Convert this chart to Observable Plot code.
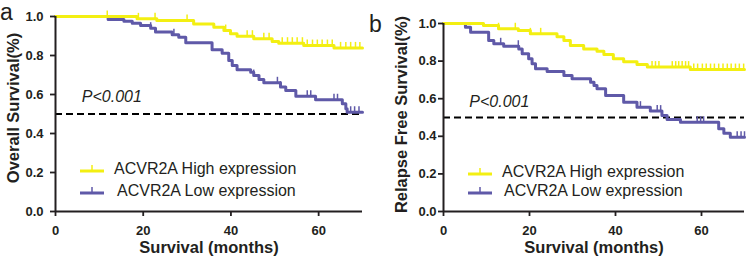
<!DOCTYPE html>
<html><head><meta charset="utf-8">
<script src="https://cdn.jsdelivr.net/npm/d3@7"></script>
<script src="https://cdn.jsdelivr.net/npm/@observablehq/plot@0.6"></script>
<style>
body{margin:0;background:#fff;}
#root{position:relative;width:749px;height:261px;overflow:hidden;font-family:"Liberation Sans",Arial,sans-serif;color:#231f20;}
.panel{position:absolute;top:0;}
.letter{position:absolute;font-size:23px;line-height:1;}
.leg{position:absolute;font-size:16px;display:flex;align-items:center;white-space:nowrap;height:20px;}
.leg svg{margin-right:10px;}
</style></head><body><div id="root"></div>
<script>
// ---- Data ----
const seriesNames = ["ACVR2A High expression", "ACVR2A Low expression"];
const xTicks = [0, 20, 40, 60];
const yTicks = [0, 0.2, 0.4, 0.6, 0.8, 1.0];

// Panel a: Overall Survival
const osHighMonths = [0, 18.6, 23.1, 31.5, 36.1, 38.4, 39.9, 41.4, 45.2, 49.4, 50.9, 56.6, 63.5, 70];
const osHighSurv   = [1.0, 0.988, 0.98, 0.962, 0.945, 0.928, 0.911, 0.899, 0.886, 0.872, 0.863, 0.851, 0.839, 0.839];
const osHighCensor = [11.8, 18.9, 22.7, 30, 38.8, 43.7, 44.9, 47.5, 48.7, 51.7, 52.9, 54, 55.1, 56.3, 57.4, 58.6, 59.7, 60.8, 62, 63.1, 65, 66.2, 67.3, 68.4, 69.4];
const osLowMonths  = [0, 12, 15.6, 17.5, 19.4, 21.7, 22.8, 26.6, 28.1, 29.7, 35.7, 38, 39.5, 40.3, 41.4, 44.5, 45.2, 46.4, 47.5, 51.3, 52.5, 54.8, 59.3, 65.4, 66.2, 66.5, 70];
const osLowSurv    = [1.0, 0.985, 0.976, 0.966, 0.954, 0.94, 0.92, 0.906, 0.894, 0.865, 0.829, 0.812, 0.774, 0.749, 0.727, 0.714, 0.697, 0.677, 0.66, 0.638, 0.621, 0.591, 0.573, 0.552, 0.527, 0.509, 0.509];
const osLowCensor  = [21.7, 27, 45.2, 50.6, 51.3, 57.4, 58.2, 63.5, 64.3, 67.3, 68.2, 69.2];

// Panel b: Relapse Free Survival
const rfsHighMonths = [0, 9.3, 12.8, 17.4, 20.2, 26.4, 28, 29.5, 32.6, 35.7, 37.3, 39.5, 41.9, 45, 47.4, 57.4, 70];
const rfsHighSurv   = [1.0, 0.99, 0.972, 0.963, 0.945, 0.93, 0.91, 0.883, 0.865, 0.853, 0.835, 0.812, 0.797, 0.782, 0.768, 0.755, 0.755];
const rfsHighCensor = [12.8, 16.7, 20.2, 22.6, 48.5, 49.3, 50.1, 53.2, 54, 54.7, 55.5, 56.3, 57, 58.2, 59.1, 60.2, 61.1, 62.1, 63, 64, 65, 66, 66.9, 67.9, 68.8, 69.8];
const rfsLowMonths  = [0, 5.1, 6.3, 10.5, 11.7, 14, 17.5, 18.3, 19.8, 20.6, 21.4, 24.1, 28, 29.9, 34.2, 35, 35.7, 37.7, 41.9, 45, 48.1, 50.8, 52, 55.1, 64, 65.2, 66.7, 70];
const rfsLowSurv    = [1.0, 0.98, 0.954, 0.91, 0.892, 0.879, 0.865, 0.839, 0.812, 0.786, 0.759, 0.745, 0.723, 0.706, 0.688, 0.67, 0.653, 0.617, 0.581, 0.555, 0.534, 0.51, 0.489, 0.475, 0.44, 0.416, 0.395, 0.395];
const rfsLowCensor  = [13.3, 17.4, 45.8, 49.7, 50.5, 59, 59.8, 60.5, 68.3, 69.2, 70];

// ---- Styling ----
const HIGH = "#f3ef12";
const LOW = "#5f59a8";
const INK = "#231f20";

function stepAt(times, surv, t) {
  let v = surv[0];
  for (let i = 0; i < times.length; i++) if (times[i] <= t) v = surv[i];
  return v;
}
const tickUp = {
  draw(ctx, size) {
    const r = Math.sqrt(size / Math.PI);
    ctx.moveTo(0, 0);
    ctx.lineTo(0, -r);
  }
};

function makePanel(cfg) {
  const hi = cfg.hiT.map((t, i) => ({t, s: cfg.hiS[i]}));
  const lo = cfg.loT.map((t, i) => ({t, s: cfg.loS[i]}));
  const hiC = cfg.hiC.map(t => ({t, s: stepAt(cfg.hiT, cfg.hiS, t)}));
  const loC = cfg.loC.map(t => ({t, s: stepAt(cfg.loT, cfg.loS, t)}));
  return Plot.plot({
    width: cfg.width, height: 261,
    marginLeft: cfg.ml, marginRight: cfg.mr, marginTop: cfg.mt, marginBottom: 50,
    style: {fontFamily: "Liberation Sans, Arial, sans-serif", color: INK, background: "transparent", overflow: "visible"},
    x: {domain: [0, 70]},
    y: {domain: [0, 1]},
    marks: [
      Plot.ruleY([0.5], {x1: 0, x2: 70, stroke: "#000", strokeWidth: 1.8, strokeDasharray: "7,4"}),
      Plot.line(lo, {x: "t", y: "s", curve: "step-after", stroke: LOW, strokeWidth: 3}),
      Plot.dot(loC, {x: "t", y: "s", symbol: tickUp, r: 6, stroke: LOW, strokeWidth: 1.5, fill: "none"}),
      Plot.line(hi, {x: "t", y: "s", curve: "step-after", stroke: HIGH, strokeWidth: 3}),
      Plot.dot(hiC, {x: "t", y: "s", symbol: tickUp, r: 6, stroke: HIGH, strokeWidth: 1.5, fill: "none"}),
      Plot.axisX({ticks: xTicks, tickSize: 5, tickPadding: 9, fontSize: 13, fontWeight: "bold", label: null, strokeWidth: 1.8}),
      Plot.axisY({ticks: yTicks, tickFormat: d3.format(".1f"), tickSize: 5, tickPadding: cfg.tp, fontSize: 13, fontWeight: "bold", label: null, strokeWidth: 1.8}),
      Plot.ruleX([0], {stroke: INK, strokeWidth: 2}),
      Plot.ruleY([0], {stroke: INK, strokeWidth: 2}),
      Plot.text(["P<0.001"], {x: () => 6, y: () => cfg.pY, text: d => d, textAnchor: "start", lineAnchor: "bottom", fontSize: 16, fontStyle: "italic", fill: INK}),
      Plot.text(["Survival (months)"], {frameAnchor: "bottom", text: d => d, textAnchor: "middle", lineAnchor: "bottom", dy: 41, fontSize: 16.5, fontWeight: "bold", fill: INK}),
      Plot.text([cfg.yLabel], {frameAnchor: "left", text: d => d, textAnchor: "middle", lineAnchor: "middle", rotate: -90, dx: cfg.ydx, dy: cfg.ydy, fontSize: 16.5, fontWeight: "bold", fill: INK})
    ]
  });
}

function legend(root, left, top, gap, offs) {
  [HIGH, LOW].forEach((c, i) => {
    const div = document.createElement("div");
    div.className = "leg";
    div.style.left = left + "px";
    div.style.top = (top + i * gap - 10) + "px";
    div.innerHTML = `<svg width="${24 + offs[i]}" height="12"><line x1="0" y1="8" x2="24" y2="8" stroke="${c}" stroke-width="3"/><line x1="12" y1="8" x2="12" y2="2" stroke="${c}" stroke-width="1.5"/></svg>`;
    const span = document.createElement("span");
    span.textContent = seriesNames[i];
    div.appendChild(span);
    root.appendChild(div);
  });
}

const root = document.getElementById("root");

const pa = makePanel({width: 368, ml: 55, mr: 6, mt: 16, tp: 7,
  hiT: osHighMonths, hiS: osHighSurv, hiC: osHighCensor,
  loT: osLowMonths, loS: osLowSurv, loC: osLowCensor,
  pY: 0.559, yLabel: "Overall Survival(%)", ydx: -42, ydy: -6});
pa.classList.add("panel"); pa.style.left = "0px";
root.appendChild(pa);

const pb = makePanel({width: 374, ml: 68, mr: 5, mt: 23, tp: 2,
  hiT: rfsHighMonths, hiS: rfsHighSurv, hiC: rfsHighCensor,
  loT: rfsLowMonths, loS: rfsLowSurv, loC: rfsLowCensor,
  pY: 0.555, yLabel: "Relapse Free Survival(%)", ydx: -42, ydy: -3});
pb.classList.add("panel"); pb.style.left = "375px";
root.appendChild(pb);

legend(root, 80, 169, 22, [0, 3]);
legend(root, 468, 172, 18.5, [0, 2]);

[["a", 0, 1], ["b", 369, 13]].forEach(([t, x, y]) => {
  const d = document.createElement("div");
  d.className = "letter"; d.textContent = t;
  d.style.left = x + "px"; d.style.top = y + "px";
  root.appendChild(d);
});
</script>
</body></html>
